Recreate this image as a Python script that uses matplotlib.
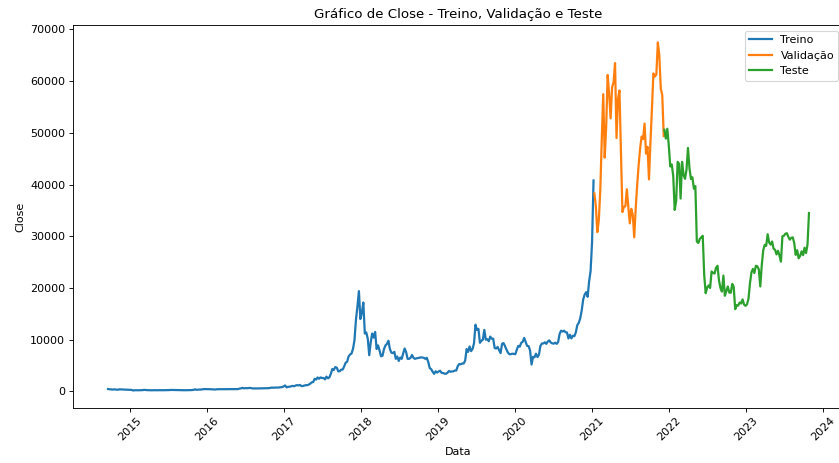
import pandas as pd
import matplotlib
matplotlib.use("Agg")
import matplotlib.pyplot as plt

# Weekly closes (train split, starting 2014-09-17)
train_start = "2014-09-17"
close_2014 = [457, 423, 383, 352, 394, 383, 335, 339, 423, 380, 367, 375, 346, 320, 322, 320]
close_2015 = [292, 178, 227, 233, 227, 219, 243, 237, 281, 296, 256, 247,
              247, 245, 219, 235, 226, 229, 237, 234, 237, 225, 229, 249, 241,
              258, 270, 285, 277, 289, 281, 268, 226, 226, 227, 238, 229, 230, 236,
              246, 253, 267, 304, 403, 311, 335, 366, 359, 417, 454, 442, 426]
close_2016 = [431, 432, 419, 395, 369, 381, 422, 424, 423, 412, 416, 418, 415,
              422, 424, 441, 446, 447, 454, 453, 447, 536, 581, 690, 592, 640,
              611, 652, 666, 655, 566, 592, 573, 580, 573, 614, 610, 597, 605,
              612, 637, 630, 678, 742, 709, 744, 740, 742, 769, 779, 834, 975]
close_2017 = [1154, 778, 900, 894, 989, 1061, 1011, 1126, 1222, 1151, 1253, 1049, 1039,
              1134, 1203, 1212, 1317, 1490, 1756, 1800, 2446, 2287, 2696, 2451, 2708, 2585,
              2602, 2332, 2864, 2530, 2727, 3426, 4331, 4153, 4703, 4599, 3882, 3906, 4210,
              4226, 4829, 5546, 5734, 6750, 7144, 7315, 8232, 9888, 13860, 16408, 19400, 14000]
close_2018 = [15200, 17200, 11200, 11400, 10200, 7000, 9500, 11200, 10400, 11500, 8200, 8900, 7900,
              6800, 6900, 8200, 8900, 9200, 9800, 8200, 7500, 7400, 7650, 6300, 6750, 5900,
              6550, 6300, 7350, 8300, 7600, 6300, 6300, 6500, 7050, 6500, 6300, 6400, 6450,
              6500, 6600, 6550, 6500, 6300, 6500, 5700, 4500, 4300, 3800, 3400, 3900, 3650]
close_2019 = [3850, 4000, 3600, 3550, 3450, 3400, 3600, 3950, 3800, 3870, 3870, 4050, 4050,
              4900, 5300, 5250, 5400, 5400, 5950, 8200, 7650, 8700, 7800, 8200, 9300, 12900,
              11900, 12100, 9400, 9800, 10000, 11900, 10000, 10100, 9700, 10600, 10200, 10200, 8400,
              8300, 8600, 8000, 7400, 9200, 9350, 8760, 8100, 7500, 7200, 7200, 7300, 7250]
close_2020 = [7200, 8080, 8800, 8650, 9400, 9600, 10350, 9600, 8800, 8750, 7900, 5200, 6700,
              6600, 7300, 6640, 7100, 8800, 9270, 9270, 9500, 9200, 9660, 9870, 9450, 9300,
              9230, 9430, 9200, 9530, 11100, 11750, 11580, 11750, 11450, 11400, 10240, 10950, 10250,
              10780, 10670, 11430, 12820, 13270, 14150, 15700, 17800, 18730, 19200, 18300, 21300, 23250,
              28900]
close_2021_train = [40800]

# Validation split, weekly from 2021-01-10
val_start = "2021-01-10"
val_close = [38300, 35800, 30800, 33100, 38900, 48700, 57500, 45200, 51200, 61200, 57500, 52800,
             58800, 59800, 63500, 49000, 56600, 58200, 46400, 34700, 35700, 35800, 39100, 35700,
             32500, 35300, 34200, 29800, 35400, 39900, 43800, 47000, 49300, 48800, 51800, 46000,
             47300, 41000, 48200, 54700, 61500, 60900, 61300, 67500, 65000, 58600, 57300, 49400]

# Test split, weekly from 2021-12-08
test_start = "2021-12-08"
test_2021 = [50600, 48900, 50800, 47500]
test_2022 = [43500, 43900, 41700, 35100, 36900, 44400, 44000, 37300, 44400, 41900, 41100, 42900, 47100,
             43200, 41100, 41400, 39200, 39700, 29000, 28700, 29500, 29800, 30100, 22500, 19000, 20100,
             20500, 20000, 23200, 22900, 22800, 23900, 24300, 21500, 20000, 19300, 22400, 18500, 19400,
             20300, 19100, 19100, 20800, 20200, 15900, 16700, 16600, 17200, 17000, 17800, 16800, 16550]
test_2023 = [16850, 17900, 20900, 23000, 23700, 22900, 24300, 24200, 23600, 20300, 24400, 27300, 28350,
             28170, 30400, 28800, 28400, 29000, 27600, 27400, 26500, 27200, 26300, 25100, 30000, 30100,
             30500, 30600, 29900, 29350, 29700, 29800, 28700, 26400, 27300, 25750, 26200, 27100, 26350,
             27800, 26750, 28400, 34500]

train_close = (close_2014 + close_2015 + close_2016 + close_2017 + close_2018
               + close_2019 + close_2020 + close_2021_train)
test_close = test_2021 + test_2022 + test_2023

train = pd.Series(train_close, index=pd.date_range(train_start, periods=len(train_close), freq="7D"))
val = pd.Series(val_close, index=pd.date_range(val_start, periods=len(val_close), freq="7D"))
test = pd.Series(test_close, index=pd.date_range(test_start, periods=len(test_close), freq="7D"))

# the reference looks like a default matplotlib figure shrunk to ~80%
fig = plt.figure(figsize=(839 / 80, 463 / 80), dpi=80)
ax = fig.add_axes([0.087, 0.119, 0.919, 0.827])

ax.plot(train.index, train.values, label="Treino", linewidth=2)
ax.plot(val.index, val.values, label="Validação", linewidth=2)
ax.plot(test.index, test.values, label="Teste", linewidth=2)

ax.set_title("Gráfico de Close - Treino, Validação e Teste")
ax.set_xlabel("Data")
ax.set_ylabel("Close")
ax.legend(loc="upper right")
plt.setp(ax.get_xticklabels(), rotation=45)

fig.savefig("out.png", dpi=80)
